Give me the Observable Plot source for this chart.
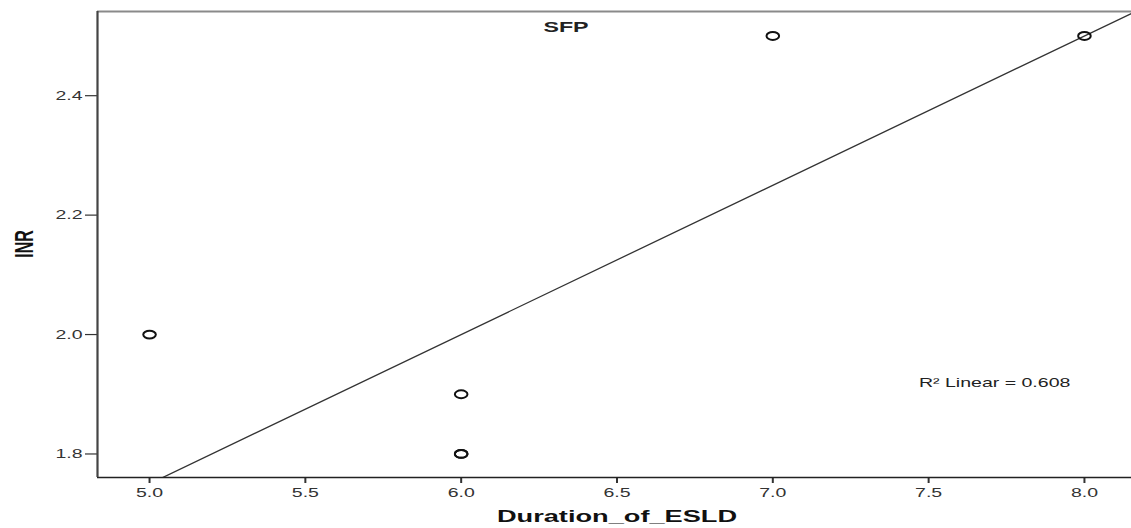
<!DOCTYPE html>
<html><head><meta charset="utf-8">
<script src="https://cdn.jsdelivr.net/npm/d3@7"></script>
<script src="https://cdn.jsdelivr.net/npm/@observablehq/plot@0.6"></script>
<style>
html,body{margin:0;padding:0;background:#fff;}
#chart{width:1131px;height:528px;overflow:hidden;}
</style></head>
<body><div id="chart"></div>
<script>
const duration = [5, 6, 6, 6, 7, 8];
const inr = [2.0, 1.9, 1.8, 1.8, 2.5, 2.5];
const xTicks = [5.0, 5.5, 6.0, 6.5, 7.0, 7.5, 8.0];
const yTicks = [1.8, 2.0, 2.2, 2.4];
const title = "SFP";
const xLabel = "Duration_of_ESLD";
const yLabel = "INR";

const pts = duration.map((d, i) => ({x: d, y: inr[i]}));
// least-squares fit from the data
const mx = d3.mean(duration), my = d3.mean(inr);
const sxy = d3.sum(pts, p => (p.x - mx) * (p.y - my));
const sxx = d3.sum(pts, p => (p.x - mx) ** 2);
const syy = d3.sum(pts, p => (p.y - my) ** 2);
const slope = sxy / sxx, intercept = my - slope * mx;
const r2 = sxy * sxy / (sxx * syy);
const xDomain = [4.833, 8.151];
const yDomain = [1.7606, 2.541];
const fit = xDomain.map(x => ({x, y: intercept + slope * x}));

// open ellipse marker (the reference picture is stretched horizontally)
const ellipse = {
  draw(ctx) {
    const rx = 6.3, ry = 3.9, k = 0.5523;
    ctx.moveTo(rx, 0);
    ctx.bezierCurveTo(rx, ry * k, rx * k, ry, 0, ry);
    ctx.bezierCurveTo(-rx * k, ry, -rx, ry * k, -rx, 0);
    ctx.bezierCurveTo(-rx, -ry * k, -rx * k, -ry, 0, -ry);
    ctx.bezierCurveTo(rx * k, -ry, rx, -ry * k, rx, 0);
    ctx.closePath();
  }
};

const font = "'Liberation Sans', Arial, sans-serif";
const fmt = d => d.toFixed(1);
const chart = Plot.plot({
  width: 1131, height: 528,
  marginLeft: 97, marginTop: 11, marginBottom: 51, marginRight: 0,
  style: {fontFamily: font, fontSize: "13px", color: "#333", background: "#fff"},
  x: {domain: xDomain, label: null},
  y: {domain: yDomain, label: null},
  marks: [
    Plot.axisX({ticks: xTicks, tickFormat: fmt, tickSize: 6, tickPadding: 4, fontSize: 13, stroke: "#333", strokeWidth: 2, fill: "#333"}),
    Plot.axisY({ticks: yTicks, tickFormat: fmt, tickSize: 12, tickPadding: 3, fontSize: 13, stroke: "#333", strokeWidth: 1.2, fill: "#333"}),
    Plot.ruleY([yDomain[1]], {stroke: "#8a8a8a", strokeWidth: 2}),
    Plot.ruleY([yDomain[0]], {stroke: "#222", strokeWidth: 1.3}),
    Plot.ruleX([xDomain[0]], {stroke: "#444", strokeWidth: 2.2}),
    Plot.line(fit, {x: "x", y: "y", stroke: "#333", strokeWidth: 1.3, clip: true}),
    Plot.dot(pts, {x: "x", y: "y", symbol: ellipse, stroke: "#111", strokeWidth: 2, fill: "none"})
  ]
});
// widen Plot's tick labels like the reference
d3.select(chart).selectAll("text").each(function () {
  const t = this.getAttribute("transform") || "";
  this.setAttribute("transform", (t + " scale(1.5,1)").trim());
});
const svg = d3.select(chart);
svg.append("text").attr("transform", "translate(566,32) scale(1.55,1)").attr("text-anchor", "middle")
  .attr("font-family", font).attr("font-size", 15).attr("font-weight", "bold").attr("fill", "#222").text(title);
svg.append("text").attr("transform", "translate(919,387) scale(1.55,1)").attr("text-anchor", "start")
  .attr("font-family", font).attr("font-size", 12.6).attr("fill", "#222").text("R² Linear = " + r2.toFixed(3));
svg.append("text").attr("transform", "translate(617,522) scale(1.6,1)").attr("text-anchor", "middle")
  .attr("font-family", font).attr("font-size", 17).attr("font-weight", "bold").attr("fill", "#111").text(xLabel);
svg.append("text").attr("transform", "translate(33,244) rotate(-90) scale(1,1.6)").attr("text-anchor", "middle")
  .attr("font-family", font).attr("font-size", 16).attr("font-weight", "bold").attr("fill", "#111").text(yLabel);
document.getElementById("chart").appendChild(chart);
</script></body></html>
